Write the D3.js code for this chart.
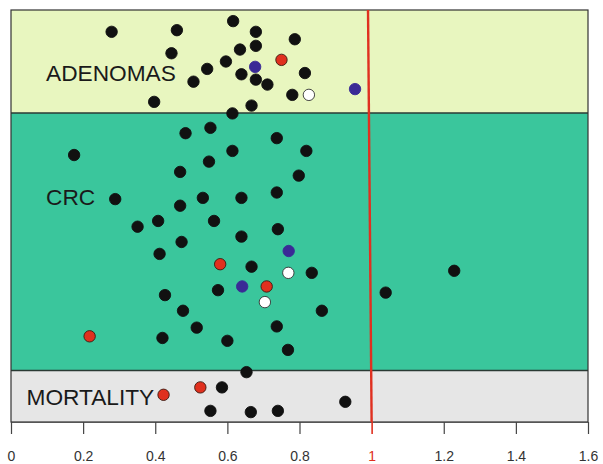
<!DOCTYPE html>
<html><head><meta charset="utf-8">
<script src="https://cdn.jsdelivr.net/npm/d3@7"></script>
<style>html,body{margin:0;padding:0;background:#fff;}svg{display:block;}</style>
</head><body>
<svg id="c" width="603" height="464"></svg>
<script>
// x = relative risk value, y = vertical jitter position (0-100), t = marker type
const groups = ["MORTALITY", "CRC", "ADENOMAS"];
const bandBounds = [0, 12.5, 75, 100];
const bandColors = ["#e6e6e6", "#3ac69c", "#e8f6bf"];
const xTicks = [0, 0.2, 0.4, 0.6, 0.8, 1, 1.2, 1.4, 1.6];
const refLine = {top: 0.99, bottom: 1.0};

const adenomas = [
  [0.279,94.7,"k"],[0.460,95.1,"k"],[0.445,89.5,"k"],[0.506,82.6,"k"],[0.397,77.7,"k"],
  [0.616,97.3,"k"],[0.679,94.7,"k"],[0.787,92.9,"k"],[0.635,90.4,"k"],[0.679,91.3,"k"],
  [0.750,87.9,"r"],[0.596,87.5,"k"],[0.544,85.7,"k"],[0.677,86.2,"b"],[0.639,84.4,"k"],
  [0.679,83.1,"k"],[0.711,81.9,"k"],[0.815,84.7,"k"],[0.780,79.4,"k"],[0.826,79.4,"w"],
  [0.954,80.8,"b"],[0.667,76.8,"k"],[0.614,74.9,"k"]
];
const crc = [
  [0.484,70.1,"k"],[0.175,64.8,"k"],[0.469,60.7,"k"],[0.289,54.1,"k"],[0.469,52.5,"k"],
  [0.532,54.4,"k"],[0.408,48.8,"k"],[0.351,47.4,"k"],[0.473,43.7,"k"],[0.412,40.8,"k"],
  [0.553,71.4,"k"],[0.737,68.9,"k"],[0.614,65.8,"k"],[0.819,65.8,"k"],[0.549,63.2,"k"],
  [0.798,59.8,"k"],[0.639,54.4,"k"],[0.737,55.7,"k"],[0.563,48.8,"k"],[0.740,46.8,"k"],
  [0.639,45.0,"k"],[0.770,41.5,"b"],[0.218,20.8,"r"],[0.427,30.8,"k"],[0.477,27.0,"k"],
  [0.515,22.9,"k"],[0.420,20.4,"k"],[0.580,38.3,"r"],[0.667,37.7,"k"],[0.769,36.2,"w"],
  [0.834,36.2,"k"],[0.574,32.0,"k"],[0.641,32.9,"b"],[0.709,32.9,"r"],[0.704,29.1,"w"],
  [0.862,27.0,"k"],[0.737,23.2,"k"],[0.600,19.7,"k"],[0.768,17.5,"k"],[1.039,31.4,"k"],
  [1.229,36.7,"k"]
];
const mortality = [
  [0.653,12.1,"k"],[0.525,8.4,"r"],[0.585,8.4,"k"],[0.423,6.6,"r"],[0.553,2.7,"k"],
  [0.665,2.4,"k"],[0.740,2.7,"k"],[0.927,4.9,"k"]
];

const fills = {k:"#111111", r:"#e0301e", b:"#3a2a96", w:"#ffffff"};
const strokes = {k:"#111111", r:"#3a1a10", b:"#3a2a96", w:"#333333"};

const svg = d3.select("#c");
const L = 11, R = 588, T = 10, B = 422;
const x = d3.scaleLinear().domain([0, 1.6]).range([L, R]);
const y = d3.scaleLinear().domain([0, 100]).range([B, T]);

// bands
svg.selectAll("rect.band").data(groups).join("rect").attr("class","band")
  .attr("x", L).attr("width", R - L)
  .attr("y", (d,i) => y(bandBounds[i+1])).attr("height", (d,i) => y(bandBounds[i]) - y(bandBounds[i+1]))
  .attr("fill", (d,i) => bandColors[i]);
// separators
svg.selectAll("line.sep").data([bandBounds[1], bandBounds[2]]).join("line").attr("class","sep")
  .attr("x1", L).attr("x2", R).attr("y1", d => y(d)).attr("y2", d => y(d))
  .attr("stroke", "#2a3a34").attr("stroke-width", 1.5);
// frame
svg.append("rect").attr("x", L).attr("y", T).attr("width", R - L).attr("height", B - T)
  .attr("fill", "none").attr("stroke", "#333").attr("stroke-width", 1.2);

// labels
const labelY = [405, 205, 80.5];
const labelX = [26.5, 46, 46];
svg.selectAll("text.glabel").data(groups).join("text").attr("class","glabel")
  .attr("x", (d,i) => labelX[i]).attr("y", (d,i) => labelY[i])
  .attr("font-family", "Liberation Sans, Arial, sans-serif").attr("font-size", 22.7)
  .attr("fill", "#1a1a1a").text(d => d);

// reference line
svg.append("line").attr("x1", x(refLine.top)).attr("y1", T).attr("x2", x(refLine.bottom)).attr("y2", B)
  .attr("stroke", "#e03020").attr("stroke-width", 2.4);

// points
const all = [...adenomas, ...crc, ...mortality];
svg.selectAll("circle.pt").data(all).join("circle").attr("class","pt")
  .attr("cx", d => x(d[0])).attr("cy", d => y(d[1])).attr("r", 5.7)
  .attr("fill", d => fills[d[2]]).attr("stroke", d => strokes[d[2]]).attr("stroke-width", 0.9);

// x axis
const ax = svg.append("g").attr("transform", `translate(0,${B})`)
  .call(d3.axisBottom(x).tickValues(xTicks).tickSize(12).tickSizeOuter(0).tickPadding(17)
    .tickFormat(d => d3.format("")(d)));
ax.select(".domain").attr("stroke", "#555").attr("stroke-width", 1.2);
ax.selectAll(".tick line").attr("stroke", "#444").attr("stroke-width", 1.2);
ax.selectAll(".tick text").attr("font-family", "Liberation Sans, Arial, sans-serif")
  .attr("font-size", 14).attr("fill", "#333");
ax.selectAll(".tick").filter(d => d === 1).select("line").attr("stroke", "#e03020").attr("stroke-width", 1.6);
ax.selectAll(".tick").filter(d => d === 1).select("text").attr("fill", "#e03020");
</script>
</body></html>
